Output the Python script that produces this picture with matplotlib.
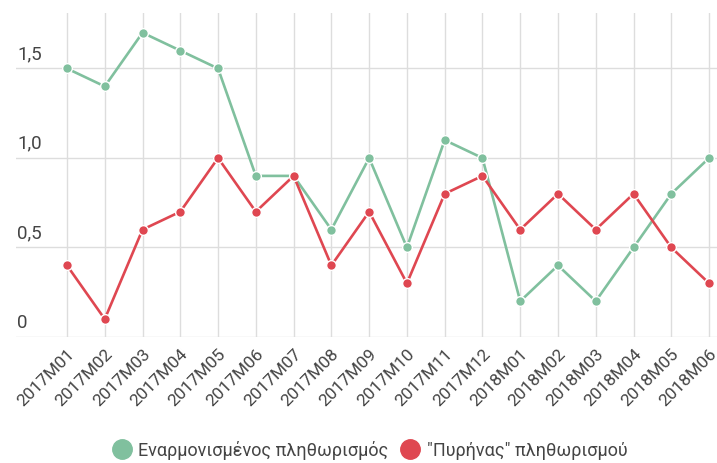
import matplotlib.pyplot as plt
from matplotlib.lines import Line2D
import matplotlib.transforms as mtransforms

plt.rcParams['font.family'] = ['Roboto', 'DejaVu Sans']

months = ['2017M01', '2017M02', '2017M03', '2017M04', '2017M05', '2017M06',
          '2017M07', '2017M08', '2017M09', '2017M10', '2017M11', '2017M12',
          '2018M01', '2018M02', '2018M03', '2018M04', '2018M05', '2018M06']
hicp = [1.5, 1.4, 1.7, 1.6, 1.5, 0.9, 0.9, 0.6, 1.0, 0.5, 1.1, 1.0,
        0.2, 0.4, 0.2, 0.5, 0.8, 1.0]
core = [0.4, 0.1, 0.6, 0.7, 1.0, 0.7, 0.9, 0.4, 0.7, 0.3, 0.8, 0.9,
        0.6, 0.8, 0.6, 0.8, 0.5, 0.3]
series_names = ['Εναρμονισμένος πληθωρισμός', '"Πυρήνας" πληθωρισμού']
yticks = [0, 0.5, 1.0, 1.5]
ytick_labels = ['0', '0,5', '1,0', '1,5']

green = '#80c09e'
red = '#df4751'
text_col = '#444444'
grid_col = '#dddddd'

fig = plt.figure(figsize=(7.17, 4.63), dpi=100)
ax = fig.add_axes([16 / 717, 126 / 463, 701 / 717, 324 / 463])

x = list(range(len(months)))
for vals, col in [(hicp, green), (core, red)]:
    ax.plot(x, vals, '-', color=col, lw=1.9, marker='o', ms=7,
            mfc=col, mec='white', mew=1.0, zorder=3)

ax.set_xlim(-1.35, len(months) - 1 + 0.21)
ax.set_ylim(0, 1.81)
ax.set_xticks(x)
ax.set_xticklabels(months, rotation=45, ha='right', va='top',
                   rotation_mode='anchor', fontsize=12.5, color=text_col)
ax.set_yticks(yticks)
ax.set_yticklabels([])
ax.tick_params(axis='both', length=0)
ax.tick_params(axis='x', pad=7)
ax.grid(True, color=grid_col, lw=1.0)
for s in ax.spines.values():
    s.set_visible(False)

trans = mtransforms.blended_transform_factory(ax.transAxes, ax.transData)
for v, lab in zip(yticks, ytick_labels):
    ax.text(0.002, v + 0.03, lab, transform=trans, ha='left', va='bottom',
            fontsize=13.5, color=text_col)

handles = [Line2D([], [], ls='none', marker='o', ms=14, color=c)
           for c in (green, red)]
fig.legend(handles, series_names, loc='lower center', ncol=2,
           bbox_to_anchor=(0.515, -0.028), frameon=False, fontsize=13,
           handletextpad=0.3, columnspacing=0.6, labelcolor=text_col,
           handlelength=1.2)

fig.savefig('out.png', dpi=100)
